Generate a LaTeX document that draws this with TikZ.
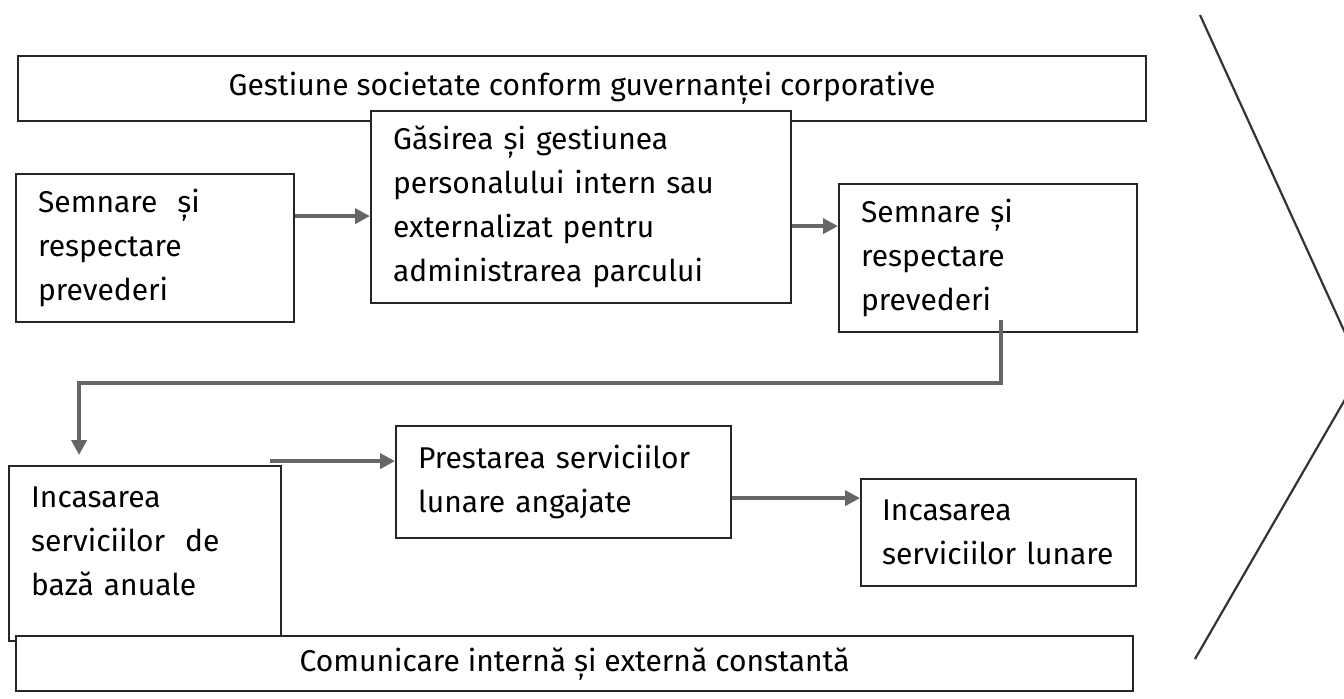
\documentclass[tikz,border=0pt]{standalone}
\usepackage{fontspec}
\setmainfont{Fira Sans}
\usetikzlibrary{arrows.meta}

\tikzset{
  box/.style={draw=black!85, line width=1.1pt, fill=white, anchor=north west,
    inner xsep=11pt, inner ysep=0pt, align=left,
    font=\fontsize{15}{22}\selectfont},
  banner/.style={draw=black!85, line width=1.1pt, fill=white, anchor=north west,
    inner sep=0pt, align=center, font=\fontsize{15}{22}\selectfont},
  flow/.style={draw=black!60, line width=2pt, -{Triangle[length=7.5pt,width=7.5pt]}}
}

\begin{document}
\begin{tikzpicture}[x=0.5pt, y=-0.5pt]
  \useasboundingbox (0,0) rectangle (1344,698);
  \clip (0,0) rectangle (1344,698);

  % Banda de sus
  \node[banner, minimum width=564pt, minimum height=32.5pt] (gov) at (17,55)
    {Gestiune societate conform guvernanței corporative};

  % Primul rand
  \node[box, text width=117pt, minimum height=74pt] (semn1) at (15,173)
    {Semnare~ și\\respectare\\prevederi};
  \node[box, text width=188pt, minimum height=96pt] (pers) at (370,110)
    {Găsirea și gestiunea\\personalului intern sau\\externalizat pentru\\administrarea parcului};
  \node[box, text width=127pt, minimum height=74pt] (semn2) at (838,183)
    {Semnare și\\respectare\\prevederi};

  % Al doilea rand
  \node[box, text width=114pt, minimum height=87.5pt] (anual) at (8,465)
    {Incasarea\\serviciilor~ de\\bază anuale\\[-10pt]\mbox{}};
  \node[box, text width=145.5pt, minimum height=56pt] (prest) at (395,425)
    {Prestarea serviciilor\\lunare angajate};
  \node[box, text width=116.5pt, minimum height=53.5pt, inner xsep=10.5pt] (lunar) at (860,478)
    {Incasarea\\\mbox{serviciilor lunare}};

  % Banda de jos
  \node[banner, minimum width=558.5pt, minimum height=27.5pt] (com) at (15,635)
    {Comunicare internă și externă constantă};

  % Sageti
  \draw[flow] ([yshift=16pt]semn1.east) -- ([yshift=16pt]semn1.east -| pers.west);
  \draw[flow] ([yshift=-9.5pt]pers.east) -- ([yshift=-9.5pt]pers.east -| semn2.west);
  \draw[flow] ([xshift=6.5pt,yshift=6.5pt]semn2.south)
    |- ([xshift=-33pt,yshift=41pt]anual.north) -- ([xshift=-33pt,yshift=5pt]anual.north);
  \coordinate (inE) at ([yshift=10.5pt]prest.west);
  \draw[flow] ([xshift=-6pt]inE -| anual.east) -- (inE);
  \draw[flow] ([yshift=-8pt]prest.east) -- ([yshift=-8pt]prest.east -| lunar.west);

  % Sageata mare
  \coordinate (V1) at (1200,15);
  \coordinate (V2) at (1362,370);
  \coordinate (V3) at (1195,659);
  \draw[line width=1.1pt, black!80] (V1) -- (V2) -- (V3);
\end{tikzpicture}
\end{document}
